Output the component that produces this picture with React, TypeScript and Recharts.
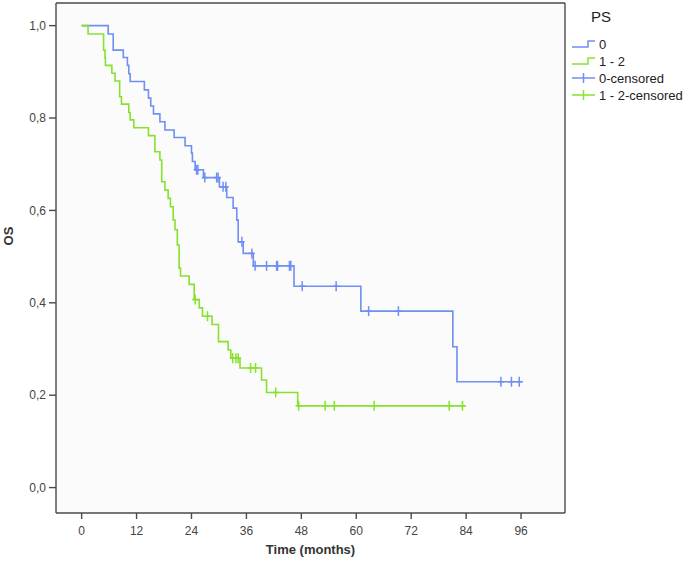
import React from 'react';
import { ComposedChart, Line, Scatter, XAxis, YAxis, CartesianGrid, ReferenceLine } from 'recharts';

// PS 0 : step times (months) and survival after each step
const blueTimes = [0, 5.8, 6.9, 9.1, 10.0, 10.3, 10.6, 13.7, 14.6, 15.1, 15.7, 17.1, 18.2, 20.2, 22.6, 24.0, 24.2, 24.8, 26.6, 30.1, 31.7, 33.1, 33.9, 34.2, 35.3, 37.5, 46.4, 61.0, 81.1, 82.0, 96.4];
const blueSurv = [1.0, 0.982, 0.947, 0.931, 0.914, 0.896, 0.879, 0.861, 0.843, 0.826, 0.809, 0.792, 0.774, 0.758, 0.740, 0.724, 0.706, 0.688, 0.671, 0.651, 0.628, 0.605, 0.579, 0.532, 0.507, 0.480, 0.436, 0.382, 0.305, 0.229, 0.229];
const blueCensored = [25.1, 25.4, 26.9, 29.5, 29.8, 30.9, 31.5, 35.0, 37.2, 37.9, 40.4, 42.6, 42.8, 45.4, 45.7, 48.2, 55.6, 62.7, 69.2, 91.6, 93.9, 95.6];

// PS 1 - 2
const greenTimes = [0, 1.4, 4.8, 5.1, 5.2, 6.6, 7.3, 8.3, 8.7, 10.3, 10.6, 11.4, 14.6, 16.0, 17.1, 17.5, 18.2, 18.9, 19.4, 20.0, 20.4, 20.9, 21.3, 21.6, 23.5, 24.6, 25.7, 26.4, 28.5, 29.9, 32.0, 32.6, 34.6, 39.3, 40.4, 47.2, 83.9];
const greenSurv = [1.0, 0.982, 0.947, 0.930, 0.914, 0.897, 0.880, 0.846, 0.830, 0.812, 0.796, 0.779, 0.762, 0.727, 0.709, 0.662, 0.644, 0.626, 0.608, 0.579, 0.558, 0.525, 0.475, 0.458, 0.440, 0.407, 0.389, 0.371, 0.353, 0.316, 0.298, 0.280, 0.259, 0.233, 0.206, 0.177, 0.177];
const greenCensored = [24.8, 27.5, 33.0, 33.7, 34.2, 36.9, 38.0, 42.4, 47.4, 53.2, 55.2, 63.9, 80.3, 83.2];

const xTicks = [0, 12, 24, 36, 48, 60, 72, 84, 96];
const yTicks = [0, 0.2, 0.4, 0.6, 0.8, 1.0];
const legendLabels = ['0', '1 - 2', '0-censored', '1 - 2-censored'];

const BLUE = '#6f8ff2';
const GREEN = '#86e22c';
const AXIS = '#4a4a4a';
const X_MIN = -5.6;
const X_MAX = 105.6;
const Y_MIN = -0.055;
const Y_MAX = 1.049;
const FONT = 'Arial, "Liberation Sans", sans-serif';

const toSteps = (times: number[], surv: number[]) => times.map((t, i) => ({ t, s: surv[i] }));

// survival level at a censoring time
const levelAt = (times: number[], surv: number[], t: number) => {
  let s = surv[0];
  for (let i = 0; i < times.length; i++) {
    if (times[i] <= t) s = surv[i];
  }
  return s;
};
const toCensored = (cens: number[], times: number[], surv: number[]) =>
  cens.map((t) => ({ t, s: levelAt(times, surv, t) }));

const blueSteps = toSteps(blueTimes, blueSurv);
const greenSteps = toSteps(greenTimes, greenSurv);
const blueMarks = toCensored(blueCensored, blueTimes, blueSurv);
const greenMarks = toCensored(greenCensored, greenTimes, greenSurv);

const crossShape = (color: string) => (props: any) => {
  const { cx, cy } = props;
  return (
    <g>
      <line x1={cx} x2={cx} y1={cy - 5} y2={cy + 5} stroke={color} strokeWidth={1.5} />
      <line x1={cx - 3} x2={cx + 3} y1={cy} y2={cy} stroke={color} strokeWidth={1.5} />
    </g>
  );
};

const Legend = () => (
  <svg width={120} height={110} style={{ position: 'absolute', left: 565, top: 0 }}>
    <text x={36} y={22} textAnchor="middle" fontSize={15} fill="#222" fontFamily={FONT}>PS</text>
    {legendLabels.map((lab, i) => {
      const y = 44 + i * 17;
      const color = i % 2 === 0 ? BLUE : GREEN;
      return (
        <g key={lab}>
          {i < 2 ? (
            <path d={`M7,${y + 3} H23 V${y - 3} H30`} fill="none" stroke={color} strokeWidth={1.5} />
          ) : (
            <g>
              <line x1={7} x2={30} y1={y} y2={y} stroke={color} strokeWidth={1.5} />
              <line x1={18.5} x2={18.5} y1={y - 5} y2={y + 5} stroke={color} strokeWidth={1.5} />
            </g>
          )}
          <text x={34} y={y + 5} fontSize={13} fill="#222" fontFamily={FONT}>{lab}</text>
        </g>
      );
    })}
  </svg>
);

export default function App() {
  return (
    <div style={{ position: 'absolute', left: 0, top: 0, width: 685, height: 565, background: '#fff', fontFamily: FONT }}>
      <ComposedChart width={685} height={565} margin={{ top: 3, right: 120, bottom: 22, left: 0 }}>
        <CartesianGrid horizontal={false} vertical={false} fill="#fbfbfb" />
        <XAxis
          type="number"
          dataKey="t"
          domain={[X_MIN, X_MAX]}
          allowDataOverflow
          ticks={xTicks}
          height={30}
          tickSize={6}
          tickMargin={7}
          stroke={AXIS}
          strokeWidth={1.4}
          tick={{ fill: '#444', fontSize: 12, fontFamily: FONT }}
          label={{
            content: (p: any) => (
              <text x={p.viewBox.x + p.viewBox.width / 2} y={554} textAnchor="middle" fontSize={13} fontWeight="bold" fill="#333" fontFamily={FONT}>
                Time (months)
              </text>
            ),
          }}
        />
        <YAxis
          type="number"
          dataKey="s"
          domain={[Y_MIN, Y_MAX]}
          allowDataOverflow
          ticks={yTicks}
          width={56}
          tickSize={7}
          tickMargin={3}
          stroke={AXIS}
          strokeWidth={1.4}
          tickFormatter={(v: number) => v.toFixed(1).replace('.', ',')}
          tick={{ fill: '#444', fontSize: 12, fontFamily: FONT }}
          label={{
            content: () => (
              <text x={13} y={236} transform="rotate(-90 13 236)" textAnchor="middle" fontSize={13} fontWeight="bold" fill="#333" fontFamily={FONT}>
                OS
              </text>
            ),
          }}
        />
        <ReferenceLine y={Y_MAX} stroke={AXIS} strokeWidth={1.4} />
        <ReferenceLine x={X_MAX} stroke={AXIS} strokeWidth={1.4} />
        <Line data={blueSteps} dataKey="s" type="stepAfter" stroke={BLUE} strokeWidth={1.6} dot={false} isAnimationActive={false} />
        <Line data={greenSteps} dataKey="s" type="stepAfter" stroke={GREEN} strokeWidth={1.6} dot={false} isAnimationActive={false} />
        <Scatter data={blueMarks} dataKey="s" shape={crossShape(BLUE)} isAnimationActive={false} />
        <Scatter data={greenMarks} dataKey="s" shape={crossShape(GREEN)} isAnimationActive={false} />
      </ComposedChart>
      <Legend />
    </div>
  );
}
